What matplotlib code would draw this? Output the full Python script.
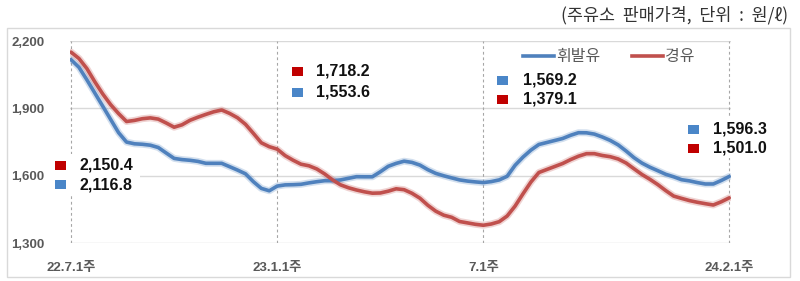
import matplotlib
matplotlib.use('Agg')
import matplotlib.pyplot as plt
from matplotlib.patches import Rectangle
from matplotlib.lines import Line2D

# ---------------- data ----------------
weeks = list(range(84))
gasoline = [2116.8, 2082.8, 2027.1, 1968.3, 1909.5, 1850.3, 1791.4, 1749.6, 1742.0, 1739.8,
            1735.7, 1725.5, 1701.0, 1676.9, 1671.6, 1668.5, 1663.6, 1655.1, 1655.0, 1655.0,
            1640.0, 1624.8, 1608.3, 1573.1, 1543.3, 1532.6, 1553.6, 1558.9, 1559.8, 1561.5,
            1567.8, 1573.1, 1577.6, 1577.6, 1581.1, 1588.3, 1595.4, 1595.0, 1595.0, 1617.2,
            1641.7, 1654.7, 1664.5, 1659.1, 1647.1, 1626.6, 1610.1, 1599.4, 1590.1, 1581.1,
            1575.8, 1572.2, 1569.2, 1573.6, 1581.1, 1597.2, 1646.2, 1682.7, 1713.9, 1738.9,
            1747.8, 1756.7, 1765.6, 1779.9, 1791.4, 1791.0, 1785.2, 1772.3, 1757.1, 1737.1,
            1709.9, 1680.1, 1656.0, 1637.7, 1622.1, 1606.1, 1595.0, 1582.0, 1576.7, 1569.1,
            1562.9, 1563.0, 1578.5, 1596.3]
diesel = [2150.4, 2122.0, 2077.0, 2018.2, 1963.9, 1916.2, 1876.5, 1841.3, 1846.2, 1853.8,
          1857.4, 1852.0, 1834.7, 1815.9, 1826.6, 1846.7, 1860.5, 1873.0, 1884.6, 1892.6,
          1877.4, 1857.8, 1828.9, 1788.3, 1746.4, 1729.1, 1718.2, 1689.4, 1668.9, 1651.1,
          1644.0, 1629.7, 1607.4, 1580.7, 1558.9, 1546.0, 1536.1, 1528.1, 1521.9, 1522.8,
          1530.8, 1541.5, 1537.5, 1521.5, 1499.6, 1468.0, 1441.7, 1423.9, 1414.5, 1395.8,
          1389.6, 1383.3, 1379.1, 1384.7, 1394.9, 1420.3, 1464.4, 1519.2, 1571.8, 1614.1,
          1627.5, 1640.8, 1654.2, 1671.6, 1686.7, 1697.9, 1698.0, 1689.9, 1684.5, 1674.3,
          1656.4, 1630.6, 1605.2, 1583.8, 1560.2, 1533.5, 1509.0, 1498.7, 1488.9, 1481.4,
          1475.1, 1469.3, 1483.6, 1501.0]
series_names = ['휘발유', '경유']
tick_pos = [0, 26, 52, 83]
tick_labels = ['22.7.1주', '23.1.1주', '7.1주', '24.2.1주']
y_ticks = [1300, 1600, 1900, 2200]
title = '(주유소  판매가격,  단위  :  원/ℓ)'
# callout groups: (series, value) rows
callout_rows = [
    [('diesel', 2150.4), ('gasoline', 2116.8)],
    [('diesel', 1718.2), ('gasoline', 1553.6)],
    [('gasoline', 1569.2), ('diesel', 1379.1)],
    [('gasoline', 1596.3), ('diesel', 1501.0)],
]

# ---------------- style ----------------
BLUE = '#4f81bd'
RED = '#c0504d'
SQ = {'gasoline': '#4a86c8', 'diesel': '#c00000'}
GRID = '#d9d9d9'
TXT = '#595959'
CJK = ['Noto Sans CJK KR', 'DejaVu Sans']
NUMF = ['Liberation Sans', 'Noto Sans CJK KR']

W, H = 800, 281
def fx(px):
    return px / W
def fy(py):
    return 1 - py / H

fig = plt.figure(figsize=(8, 2.81), dpi=100)
fig.patch.set_facecolor('white')

# outer frame
fig.add_artist(Rectangle((fx(7), fy(276.5)), (790 - 7) / W, (276.5 - 28) / H,
                         transform=fig.transFigure, fill=False,
                         edgecolor='#d9d9d9', lw=1.0, zorder=0))

ax = fig.add_axes([fx(70), fy(243), (731 - 70) / W, (243 - 41) / H])
ax.set_xlim(-0.13, 83.23)
ax.set_ylim(1300, 2200)
for s in ax.spines.values():
    s.set_visible(False)

for v in y_ticks:
    ax.axhline(v, color=GRID, lw=1.0, zorder=1)
for p in tick_pos:
    ax.axvline(p, color='#a6a6a6', lw=0.8, ls=(0, (2.5, 2.5)), zorder=1)

for vals, col in ((gasoline, BLUE), (diesel, RED)):
    ax.plot(weeks, vals, color=col, lw=5.0, alpha=0.25, solid_capstyle='round', zorder=2)
    ax.plot(weeks, vals, color=col, lw=2.6, solid_capstyle='round', zorder=3)

ax.set_yticks(y_ticks)
ax.set_yticklabels([f'{v:,}' for v in y_ticks], family=NUMF, fontsize=9.5,
                   fontweight='bold', color=TXT)
ax.set_xticks(tick_pos)
ax.set_xticklabels(tick_labels, family=NUMF, fontsize=9.5, fontweight='bold', color=TXT)
ax.tick_params(axis='y', length=0, pad=18.5)
ax.tick_params(axis='x', length=0, pad=14)

# legend
handles = [Line2D([], [], color=BLUE, lw=2.6), Line2D([], [], color=RED, lw=2.6)]
leg = fig.legend(handles, series_names, loc='center', bbox_to_anchor=(fx(609), fy(57)),
                 ncol=2, frameon=False, handlelength=1.9, handletextpad=0.15,
                 columnspacing=2.0, prop={'family': CJK, 'size': 11.5})
for t in leg.get_texts():
    t.set_color(TXT)

# title
fig.text(fx(788), fy(15), title, ha='right', va='center', fontsize=12.5,
         family=CJK, color='#333333')

# callouts
callout_geom = [
    # square x, text x, row y's, white background (x0, y0, x1, y1) or None
    (60.5, 79, (165.5, 184.5), (50, 154, 140, 195)),
    (297, 316, (71, 92), None),
    (502, 523, (80, 99), None),
    (693, 713, (129, 148), (686, 118, 772, 158)),
]
for rows, (sqx, tx, ys, bg) in zip(callout_rows, callout_geom):
    if bg is not None:
        x0, y0, x1, y1 = bg
        fig.add_artist(Rectangle((fx(x0), fy(y1)), (x1 - x0) / W, (y1 - y0) / H,
                                 transform=fig.transFigure, facecolor='white',
                                 edgecolor='none', zorder=1))
    for (name, val), y in zip(rows, ys):
        fig.add_artist(Rectangle((fx(sqx - 5.5), fy(y + 4.5)), 11 / W, 9 / H,
                                 transform=fig.transFigure, facecolor=SQ[name],
                                 edgecolor='none', zorder=2))
        fig.text(fx(tx), fy(y), f'{val:,.1f}', ha='left', va='center',
                 fontsize=11.5, fontweight='bold', family=NUMF, color='#111111', zorder=3)

fig.savefig('out.png', dpi=100, facecolor='white')
